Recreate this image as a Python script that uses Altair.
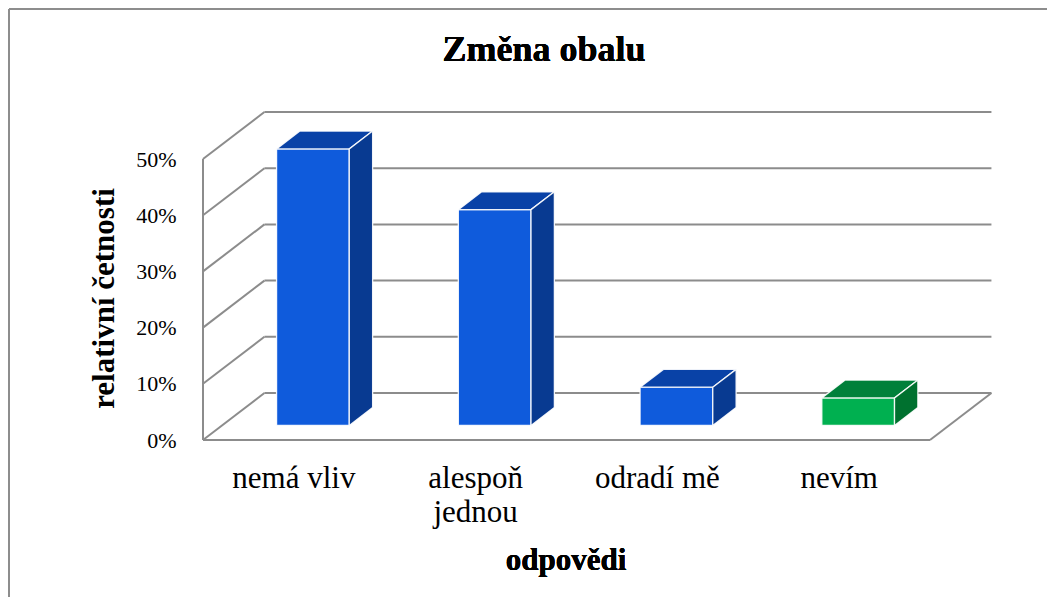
import altair as alt
import pandas as pd

# ---- data ----
categories = ["nemá vliv", "alespoň\njednou", "odradí mě", "nevím"]
values = [49.2, 38.4, 6.8, 4.9]          # relative frequency, %
ticks = [0, 10, 20, 30, 40, 50]
title_text = "Změna obalu"
x_title = "odpovědi"
y_title = "relativní četnosti"

# ---- styles ----
FRONT = ["#0F5BDC", "#0F5BDC", "#0F5BDC", "#00B050"]
TOP = ["#0942A7", "#0942A7", "#0942A7", "#00803A"]
SIDE = ["#083A91", "#083A91", "#083A91", "#00712F"]
GRID = "#8c8c8c"
FONT = "Liberation Serif"

# 3D oblique geometry (in data units)
DX = 0.338   # full depth, category units
DY = 8.36    # full depth, percent units
D0, D1 = 0.31, 0.69   # bar depth span (fraction of full depth)
HALF = 0.2            # half bar width, category units

n = len(categories)
bars = pd.DataFrame({"cat": categories, "i": list(range(n)), "v": values})
bars["xc"] = bars["i"] + 0.5
bars["xl"] = bars["i"] + 0.5 - HALF + D0 * DX
bars["xr"] = bars["i"] + 0.5 + HALF + D0 * DX
bars["yb"] = D0 * DY
bars["yt"] = bars["v"] + D0 * DY
ddx = (D1 - D0) * DX
ddy = (D1 - D0) * DY

top_rows, side_rows = [], []
for r in bars.to_dict("records"):
    top_rows.append({"cat": r["cat"], "y": r["yt"], "x": r["xl"], "x2": r["xr"]})
    top_rows.append({"cat": r["cat"], "y": r["yt"] + ddy, "x": r["xl"] + ddx, "x2": r["xr"] + ddx})
    side_rows.append({"cat": r["cat"], "x": r["xr"], "y": r["yb"], "y2": r["yt"]})
    side_rows.append({"cat": r["cat"], "x": r["xr"] + ddx, "y": r["yb"] + ddy, "y2": r["yt"] + ddy})
top_df = pd.DataFrame(top_rows)
side_df = pd.DataFrame(side_rows)

# walls / gridlines
lines = []
for t in ticks:
    lines.append({"x": DX, "y": t + DY, "x2": n + DX, "y2": t + DY})      # back wall
    lines.append({"x": 0, "y": t, "x2": DX, "y2": t + DY})                # side wall
lines.append({"x": 0, "y": 0, "x2": 0, "y2": max(ticks)})                 # front axis
lines.append({"x": 0, "y": 0, "x2": n, "y2": 0})                          # floor front
lines.append({"x": n, "y": 0, "x2": n + DX, "y2": DY})                    # floor right
lines_df = pd.DataFrame(lines)

xs = alt.Scale(domain=[0, n], nice=False, zero=False)
ys = alt.Scale(domain=[0, max(ticks)], nice=False, zero=False)
yaxis = alt.Axis(values=ticks, labelExpr="datum.value + '%'", domain=False, ticks=False,
                 grid=False, labelFont=FONT, labelFontSize=22, labelColor="#000000",
                 labelPadding=27, title=y_title, titleFont=FONT, titleFontSize=31,
                 titleFontWeight="bold", titleColor="#000000", titleX=-90, titleY=139,
                 titleAngle=270, titleAlign="center", titleBaseline="alphabetic")

walls = alt.Chart(lines_df).mark_rule(color=GRID, strokeWidth=2).encode(
    x=alt.X("x:Q", scale=xs, axis=None), x2="x2:Q",
    y=alt.Y("y:Q", scale=ys, axis=yaxis), y2="y2:Q")

front = alt.Chart(bars).mark_rect(stroke="white", strokeWidth=1.3, strokeOpacity=0.9).encode(
    x=alt.X("xl:Q", scale=xs, axis=None), x2="xr:Q",
    y=alt.Y("yb:Q", scale=ys, axis=yaxis), y2="yt:Q",
    color=alt.Color("cat:N", scale=alt.Scale(domain=categories, range=FRONT), legend=None))

top = alt.Chart(top_df).mark_area(orient="horizontal", stroke="white", strokeWidth=1.3,
                                  strokeOpacity=0.9, opacity=1).encode(
    y=alt.Y("y:Q", scale=ys, axis=yaxis),
    x=alt.X("x:Q", scale=xs, axis=None, stack=None), x2="x2:Q",
    color=alt.Color("cat:N", scale=alt.Scale(domain=categories, range=TOP), legend=None))

side = alt.Chart(side_df).mark_area(orient="vertical", stroke="white", strokeWidth=1.3,
                                    strokeOpacity=0.9, opacity=1).encode(
    x=alt.X("x:Q", scale=xs, axis=None),
    y=alt.Y("y:Q", scale=ys, axis=yaxis, stack=None), y2="y2:Q",
    color=alt.Color("cat:N", scale=alt.Scale(domain=categories, range=SIDE), legend=None))

cat_labels = alt.Chart(bars).mark_text(font=FONT, fontSize=31, color="#000000",
                                       baseline="alphabetic", align="center",
                                       lineBreak="\n", lineHeight=34).encode(
    x=alt.X("xc:Q", scale=xs, axis=None), y=alt.value(329), text="cat:N")

title = alt.Chart(bars).mark_text(font=FONT, fontSize=36, fontWeight="bold", color="#000000",
                                  baseline="alphabetic", align="center").encode(
    x=alt.value(341), y=alt.value(-98), text=alt.value(title_text))

xtitle = alt.Chart(bars).mark_text(font=FONT, fontSize=31, fontWeight="bold", color="#000000",
                                   baseline="alphabetic", align="center").encode(
    x=alt.value(363), y=alt.value(411), text=alt.value(x_title))

frame_top = alt.Chart(bars).mark_rule(color="#8c8c8c", strokeWidth=1.5).encode(
    x=alt.value(-194), x2=alt.value(900), y=alt.value(-150))
frame_left = alt.Chart(bars).mark_rule(color="#8c8c8c", strokeWidth=1.5).encode(
    x=alt.value(-194), y=alt.value(-150), y2=alt.value(500))

chart = alt.layer(frame_top, frame_left, walls, front, top, side, cat_labels, title, xtitle).resolve_scale(
    color="independent"
).properties(
    width=727, height=281,
    autosize=alt.AutoSizeParams(type="none"),
    padding={"left": 195, "top": 151, "right": 117, "bottom": 157},
    background="white",
).configure_view(stroke=None)

chart.save("out.html", embed_options={"renderer": "svg", "actions": False})
